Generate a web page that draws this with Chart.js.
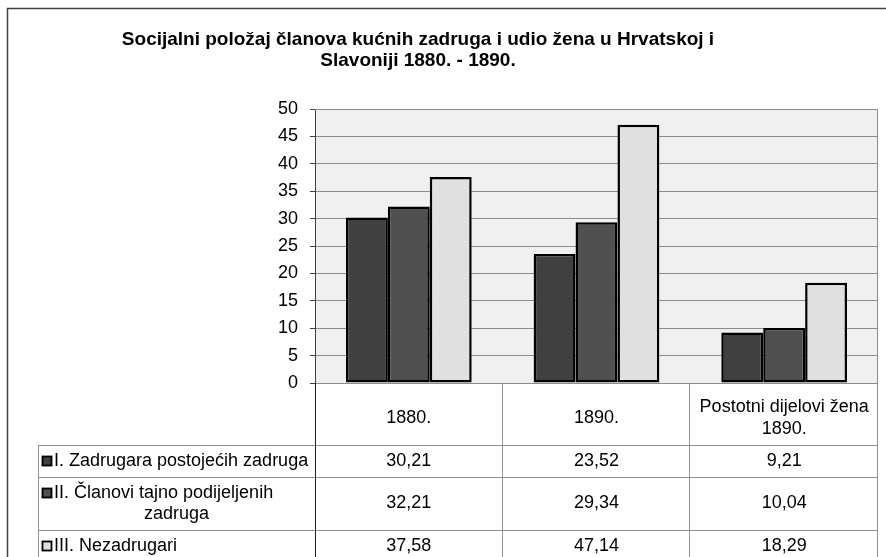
<!DOCTYPE html>
<html>
<head>
<meta charset="utf-8">
<script src="https://cdn.jsdelivr.net/npm/chart.js@4/dist/chart.umd.min.js"></script>
<style>
  html, body { margin: 0; padding: 0; background: #fff; }
  #wrap { width: 886px; height: 557px; }
</style>
</head>
<body>
<div id="wrap"><canvas id="chart" width="886" height="557"></canvas></div>
<script>
// data
const categories = [["1880."], ["1890."], ["Postotni dijelovi žena", "1890."]];
const seriesLabels = [
    ["I. Zadrugara postojećih zadruga"],
    ["II. Članovi tajno podijeljenih", "zadruga"],
    ["III. Nezadrugari"],
];
const zadrugari = [30.21, 23.52, 9.21];
const clanovi = [32.21, 29.34, 10.04];
const nezadrugari = [37.58, 47.14, 18.29];
const seriesColors = ["#404040", "#505050", "#e0e0e0"];
const titleLines = [
    "Socijalni položaj članova kućnih zadruga i udio žena u Hrvatskoj i",
    "Slavoniji 1880. - 1890.",
];

const FONT = "'Liberation Sans', Arial, sans-serif";

const fmt = (v) => v.toFixed(2).replace(".", ",");

// table rows below the plot (tops of each row line, in px)
const tableLeft = 38;
const rowTops = [445, 477, 530, 600];

const framePlugin = {
    id: "frame",
    beforeDraw(chart) {
        const { ctx, chartArea: a } = chart;
        ctx.save();
        ctx.fillStyle = "#fff";
        ctx.fillRect(0, 0, chart.width, chart.height);
        // outer border, cut off at right/bottom
        ctx.strokeStyle = "#404040";
        ctx.lineWidth = 1.5;
        ctx.strokeRect(7.5, 8.5, 1000, 1000);
        // plot background
        ctx.fillStyle = "#f0f0f0";
        ctx.fillRect(a.left, a.top, a.right - a.left, a.bottom - a.top);
        ctx.restore();
    },
    afterDraw(chart) {
        const { ctx, chartArea: a } = chart;
        const xs = chart.scales.x;
        ctx.save();

        // title
        ctx.fillStyle = "#000";
        ctx.font = "bold 19px " + FONT;
        ctx.textAlign = "center";
        ctx.textBaseline = "middle";
        titleLines.forEach((t, i) => ctx.fillText(t, 418, 40 + i * 21));

        // plot frame top/right
        ctx.strokeStyle = "#8c8c8c";
        ctx.lineWidth = 1;
        ctx.beginPath();
        ctx.moveTo(a.left, a.top + 0.5);
        ctx.lineTo(a.right - 0.5, a.top + 0.5);
        ctx.lineTo(a.right - 0.5, a.bottom);
        ctx.stroke();

        // data table grid
        const n = categories.length;
        const colW = (a.right - a.left) / n;
        ctx.strokeStyle = "#909090";
        ctx.beginPath();
        for (let i = 1; i <= n; i++) {
            const x = Math.round(a.left + colW * i) - 0.5;
            ctx.moveTo(x, a.bottom);
            ctx.lineTo(x, chart.height);
        }
        for (let r = 0; r < seriesLabels.length; r++) {
            ctx.moveTo(tableLeft, rowTops[r] + 0.5);
            ctx.lineTo(a.right, rowTops[r] + 0.5);
        }
        ctx.moveTo(tableLeft + 0.5, rowTops[0]);
        ctx.lineTo(tableLeft + 0.5, chart.height);
        ctx.stroke();
        ctx.strokeStyle = "#202020";
        ctx.beginPath();
        ctx.moveTo(a.left + 0.5, a.bottom);
        ctx.lineTo(a.left + 0.5, chart.height);
        ctx.stroke();

        ctx.font = "18px " + FONT;
        ctx.fillStyle = "#000";
        ctx.textBaseline = "middle";
        ctx.textAlign = "center";

        // header: category labels
        const headMid = (a.bottom + rowTops[0]) / 2 + 4;
        categories.forEach((lines, i) => {
            const cx = xs.getPixelForValue(i);
            lines.forEach((t, k) => {
                ctx.fillText(t, cx, headMid + (k - (lines.length - 1) / 2) * 22);
            });
        });

        // rows: legend key + label + values
        chart.data.datasets.forEach((ds, r) => {
            const mid = (rowTops[r] + rowTops[r + 1]) / 2;
            const rowMid = r === seriesLabels.length - 1 ? 546 : mid;
            const lines = seriesLabels[r];
            lines.forEach((t, k) => {
                const y = rowMid + (k - (lines.length - 1) / 2) * 21;
                if (k === 0) {
                    ctx.textAlign = "left";
                    ctx.fillText(t, 54, y);
                    ctx.fillStyle = ds.backgroundColor;
                    ctx.fillRect(42.5, y - 4.5, 9, 9);
                    ctx.strokeStyle = "#000";
                    ctx.lineWidth = 1.8;
                    ctx.strokeRect(42.5, y - 4.5, 9, 9);
                    ctx.fillStyle = "#000";
                } else {
                    ctx.textAlign = "center";
                    ctx.fillText(t, (tableLeft + a.left) / 2, y);
                }
            });
            ctx.textAlign = "center";
            ds.data.forEach((v, i) => {
                ctx.fillText(fmt(v), xs.getPixelForValue(i), rowMid);
            });
        });
        ctx.restore();
    },
};

const mkSet = (label, data, color) => ({
    label: label.join(" "),
    data: data,
    backgroundColor: color,
    borderColor: "#000",
    borderWidth: 2.5,
    borderSkipped: false,
    categoryPercentage: 0.67,
    barPercentage: 1,
});

const config = {
    type: "bar",
    data: {
        labels: categories,
        datasets: [
            mkSet(seriesLabels[0], zadrugari, seriesColors[0]),
            mkSet(seriesLabels[1], clanovi, seriesColors[1]),
            mkSet(seriesLabels[2], nezadrugari, seriesColors[2]),
        ],
    },
    options: {
        responsive: false,
        animation: false,
        layout: { padding: { top: 109, right: 8, bottom: 174, left: 0 } },
        plugins: {
            legend: { display: false },
            title: { display: false },
            tooltip: { enabled: false },
        },
        scales: {
            x: { display: false },
            y: {
                min: 0,
                max: 50,
                afterFit: (scale) => { scale.width = 315; },
                ticks: {
                    stepSize: 5,
                    color: "#000",
                    padding: 12,
                    font: { family: FONT, size: 18 },
                },
                grid: {
                    color: "#8c8c8c",
                    lineWidth: 1,
                    tickLength: 5,
                    tickColor: "#404040",
                },
                border: { color: "#404040", width: 1 },
            },
        },
    },
    plugins: [framePlugin],
};

const myChart = new Chart(document.getElementById("chart"), config);
</script>
</body>
</html>
